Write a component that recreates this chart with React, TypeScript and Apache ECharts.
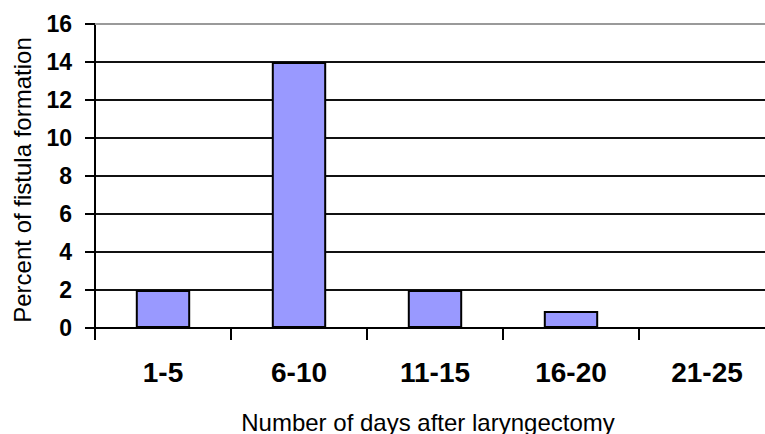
import React, { useEffect, useRef } from "react";
import * as echarts from "echarts";

const categories = ["1-5", "6-10", "11-15", "16-20", "21-25"];
const percentValues = [2, 14, 2, 0.9, 0];
const yTicks = [0, 2, 4, 6, 8, 10, 12, 14, 16];
const xTitle = "Number of days after laryngectomy";
const yTitle = "Percent of fistula formation";

const FONT = "'Liberation Sans', Arial, sans-serif";

export default function App() {
  const ref = useRef<HTMLDivElement>(null);
  useEffect(() => {
    if (!ref.current) return;
    const chart = echarts.init(ref.current, null, { renderer: "svg" });
    chart.setOption({
      animation: false,
      backgroundColor: "#ffffff",
      grid: {
        left: 95,
        top: 24,
        right: -10,
        bottom: 106,
        containLabel: false,
        outerBoundsMode: "none",
      },
      xAxis: [
        {
          type: "category",
          data: categories,
          name: xTitle,
          nameLocation: "middle",
          nameGap: 82,
          nameTextStyle: {
            fontFamily: FONT,
            fontSize: 24,
            color: "#000",
            padding: [0, 14, 0, 0],
          },
          axisLine: { show: true, lineStyle: { color: "#000", width: 2 } },
          axisTick: { show: true, length: 12, lineStyle: { color: "#000", width: 2 } },
          axisLabel: {
            fontFamily: FONT,
            fontSize: 28,
            fontWeight: "bold",
            color: "#000",
            margin: 30,
          },
          splitLine: { show: false },
        },
        {
          type: "category",
          data: categories,
          position: "top",
          axisLine: { show: true, lineStyle: { color: "#9a9a9a", width: 2 } },
          axisTick: { show: false },
          axisLabel: { show: false },
          splitLine: { show: false },
        },
      ],
      yAxis: {
        type: "value",
        min: 0,
        max: yTicks[yTicks.length - 1],
        interval: 2,
        name: yTitle,
        nameLocation: "middle",
        nameGap: 61,
        nameTextStyle: {
          fontFamily: FONT,
          fontSize: 24,
          color: "#000",
          padding: [0, 8, 0, 0],
        },
        axisLine: { show: true, lineStyle: { color: "#000", width: 2 } },
        axisTick: { show: true, length: 10, lineStyle: { color: "#000", width: 2 } },
        axisLabel: {
          fontFamily: FONT,
          fontSize: 23,
          fontWeight: "bold",
          color: "#000",
          margin: 23,
        },
        splitLine: {
          show: true,
          showMaxLine: false,
          lineStyle: { color: "#111", width: 2 },
        },
      },
      series: [
        {
          type: "bar",
          xAxisIndex: 0,
          data: percentValues,
          barWidth: "40%",
          itemStyle: { color: "#9999ff", borderColor: "#000", borderWidth: 2 },
        },
      ],
    });
    return () => chart.dispose();
  }, []);
  return (
    <div
      ref={ref}
      style={{ position: "fixed", left: 0, top: 0, width: 765, height: 434, background: "#fff" }}
    />
  );
}
